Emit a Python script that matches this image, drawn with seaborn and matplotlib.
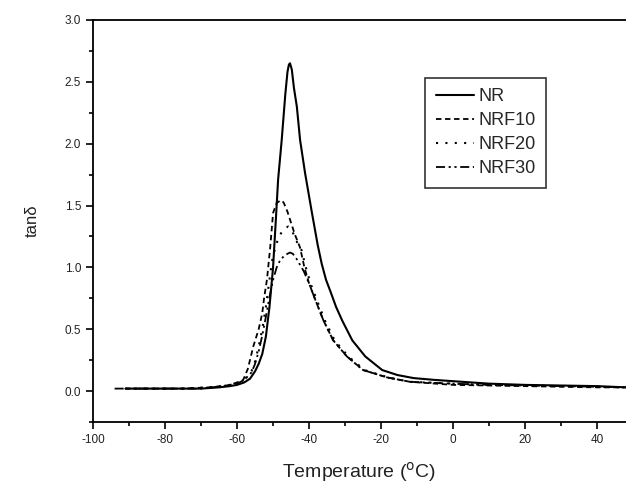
import matplotlib
matplotlib.use("Agg")
import matplotlib.pyplot as plt
import seaborn as sns
import pandas as pd
from matplotlib.ticker import MultipleLocator

sns.set_style("ticks")
plt.rcParams['font.family'] = ['Liberation Sans', 'DejaVu Sans']

series_names = ["NR", "NRF10", "NRF20", "NRF30"]

T_NR = [-91, -80, -70, -65, -62, -60, -58, -56.4, -55, -54, -53, -52, -51, -50, -49.2, -48.6, -47.6, -46.6, -46,
        -45.6, -45.3, -44.8, -44.2, -43.4, -42.5, -41.1, -39.2, -37.6, -36.5, -35.3, -34, -32.5, -30.8, -28, -24.4,
        -19.7, -15.5, -11, -5, 0, 5, 10, 20, 30, 40, 48]
Y_NR = [0.02, 0.02, 0.02, 0.03, 0.04, 0.05, 0.07, 0.10, 0.16, 0.22, 0.30, 0.44, 0.68, 1.0, 1.4, 1.71, 2.03, 2.4, 2.58,
        2.64, 2.65, 2.6, 2.45, 2.3, 2.03, 1.76, 1.44, 1.18, 1.03, 0.90, 0.80, 0.68, 0.57, 0.41, 0.28,
        0.17, 0.13, 0.105, 0.09, 0.08, 0.07, 0.06, 0.05, 0.045, 0.04, 0.03]

T_NRF10 = [-91, -75, -68, -64, -62, -60, -58.3, -57, -55.5, -54, -53, -52.5, -51.7, -50.8, -50, -49, -48, -47.5,
           -47, -46, -45, -44, -42.5, -41.3, -40, -38.3, -36, -33.3, -29.5, -25, -18.3, -12, 0, 10, 20, 30, 40, 48]
Y_NRF10 = [0.02, 0.02, 0.03, 0.04, 0.05, 0.07, 0.09, 0.18, 0.36, 0.50, 0.63, 0.75, 0.90, 1.16, 1.44, 1.52, 1.54, 1.54,
           1.52, 1.45, 1.36, 1.27, 1.16, 1.0, 0.87, 0.74, 0.57, 0.41, 0.28, 0.17, 0.11, 0.075, 0.05, 0.045, 0.04, 0.035, 0.03, 0.03]

T_NRF20 = [-91, -75, -68, -64, -60, -58, -56, -55, -54, -53, -52, -51, -50.3, -49.5, -48.5, -47.5, -46.5, -45.8,
           -45, -44, -43, -42.1, -40.9, -39.6, -37.9, -35.6, -32.9, -29.1, -24.6, -18, -12, 0, 10, 20, 30, 40, 48]
Y_NRF20 = [0.02, 0.02, 0.03, 0.04, 0.06, 0.09, 0.16, 0.24, 0.36, 0.50, 0.68, 0.90, 1.05, 1.15, 1.24, 1.29, 1.32, 1.33,
           1.31, 1.25, 1.18, 1.14, 1.0, 0.87, 0.74, 0.57, 0.41, 0.28, 0.17, 0.11, 0.075, 0.06, 0.05, 0.045, 0.04, 0.035, 0.03]

T_NRF30 = [-94, -80, -70, -64, -60, -58, -56, -55, -54, -53, -52, -51, -50, -49, -48, -47, -46, -45.3, -44.5,
           -43.5, -42.5, -41.5, -40, -38.3, -36, -33.3, -29.5, -25, -18.3, -12, 0, 10, 20, 30, 40, 48]
Y_NRF30 = [0.02, 0.02, 0.02, 0.04, 0.06, 0.09, 0.15, 0.22, 0.32, 0.45, 0.60, 0.76, 0.90, 1.0, 1.06, 1.09, 1.11, 1.12, 1.11,
           1.07, 1.02, 0.97, 0.87, 0.74, 0.57, 0.41, 0.28, 0.17, 0.11, 0.075, 0.06, 0.05, 0.045, 0.04, 0.035, 0.03]

data = {"NR": (T_NR, Y_NR), "NRF10": (T_NRF10, Y_NRF10), "NRF20": (T_NRF20, Y_NRF20), "NRF30": (T_NRF30, Y_NRF30)}
styles = {"NR": dict(linestyle="-", linewidth=1.5),
          "NRF10": dict(linestyle=(0, (3, 2)), linewidth=1.3),
          "NRF20": dict(linestyle=(0, (1, 3.5)), linewidth=1.5),
          "NRF30": dict(linestyle=(0, (5, 2, 1.2, 2, 1.2, 2)), linewidth=1.3)}

fig = plt.figure(figsize=(6.26, 4.87), dpi=100)
ax = fig.add_axes([93/626, 1 - 422/487, 1 - 93/626, (422 - 20)/487])

for name in series_names:
    t, y = data[name]
    df = pd.DataFrame({"T": t, "tan": y})
    sns.lineplot(data=df, x="T", y="tan", ax=ax, color="black", label=name, **styles[name])

ax.set_xlim(-100, 48)
ax.set_ylim(-0.25, 3.0)
ax.xaxis.set_major_locator(MultipleLocator(20))
ax.xaxis.set_minor_locator(MultipleLocator(10))
ax.yaxis.set_major_locator(MultipleLocator(0.5))
ax.yaxis.set_minor_locator(MultipleLocator(0.25))
ax.tick_params(which="major", direction="out", length=5, width=1.2, labelsize=8.5, color="black", labelcolor="#222222")
ax.tick_params(which="minor", direction="out", length=3, width=1.2, color="black")
ax.set_xticklabels([f"{int(v)}" for v in ax.get_xticks()])
for s in ["left", "bottom", "top"]:
    ax.spines[s].set_visible(True)
    ax.spines[s].set_linewidth(1.3)
    ax.spines[s].set_color("black")
ax.spines["right"].set_visible(False)

ax.set_xlabel("Temperature ($^{\\rm o}$C)", fontsize=14, color="#222222", labelpad=10)
ax.set_ylabel("tanδ", fontsize=12, color="#222222", labelpad=18)

leg = ax.legend(loc="upper left", bbox_to_anchor=(0.6235, 0.856), fontsize=13, frameon=True, fancybox=False,
                handlelength=2.1, handletextpad=0.28, borderpad=0.58, labelspacing=0.39, borderaxespad=0)
leg.get_frame().set_edgecolor("black")
leg.get_frame().set_linewidth(1.2)

fig.savefig("out.png", dpi=100)
